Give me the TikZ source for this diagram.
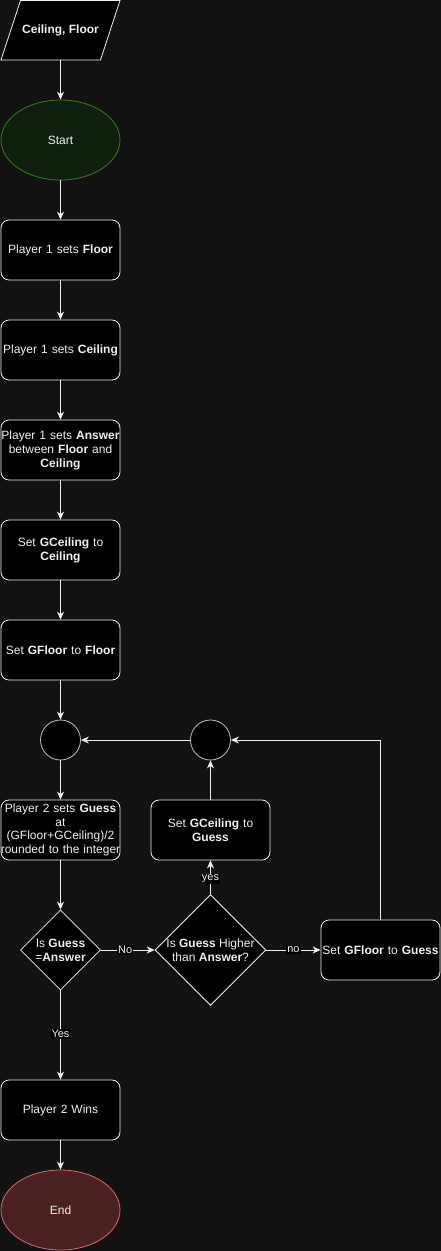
\documentclass[tikz,border=0pt]{standalone}
\usepackage{fontspec}
\setmainfont{Liberation Sans}
\usetikzlibrary{shapes.geometric,arrows.meta}
\definecolor{bgc}{HTML}{121212}
\definecolor{txt}{HTML}{F0F0F0}
\definecolor{edge}{HTML}{F0F0F0}
\definecolor{startfill}{HTML}{0F1F0E}
\definecolor{startline}{HTML}{3E7A1E}
\definecolor{endfill}{HTML}{4A2020}
\definecolor{endline}{HTML}{D46A6A}
\tikzset{
  base/.style={text=txt, font=\fontsize{12}{14}\selectfont, align=center, inner sep=0pt, line width=0.8pt},
  procbox/.style={base, draw=edge, fill=black, rounded corners=8pt, minimum width=119pt, minimum height=60pt, text width=119pt},
  term/.style={base, ellipse, minimum width=119pt, minimum height=80pt},
  decision/.style={base, diamond, draw=edge, fill=black},
  junction/.style={base, circle, draw=edge!80!black, fill=black, minimum size=40pt},
  flow/.style={draw=edge, line width=0.9pt, -{Stealth[length=8pt,width=7pt,inset=2.5pt]}},
  elabel/.style={fill=black, text=txt, font=\fontsize{11}{12}\selectfont, inner sep=1pt}
}
\begin{document}
\begin{tikzpicture}[x=1pt,y=-1pt]
\fill[bgc] (0,0) rectangle (441,1251);
\useasboundingbox (0,0) rectangle (441,1251);

\draw[edge, line width=0.8pt, fill=black] (20.5,0.5) -- (120,0.5) -- (100.5,60) -- (1,60) -- cycle;
\node[base, font=\fontsize{12}{14}\selectfont\bfseries] (io) at (60.5,30) {Ceiling, Floor};
\coordinate (iob) at (60.5,60);

\node[term, draw=startline, fill=startfill] (start) at (60.5,140) {Start};
\node[procbox] (p1) at (60.5,250) {Player 1 sets \textbf{Floor}};
\node[procbox] (p2) at (60.5,350) {Player 1 sets \textbf{Ceiling}};
\node[procbox] (p3) at (60.5,450) {Player 1 sets \textbf{Answer}\\between \textbf{Floor} and\\\textbf{Ceiling}};
\node[procbox] (p4) at (60.5,550) {Set \textbf{GCeiling} to\\\textbf{Ceiling}};
\node[procbox] (p5) at (60.5,650) {Set \textbf{GFloor} to \textbf{Floor}};
\node[junction] (j1) at (60.5,740) {};
\node[junction] (j2) at (210.5,740) {};
\node[procbox, font=\fontsize{12}{13.5}\selectfont] (p6) at (60.5,830) {Player 2 sets \textbf{Guess}\\at\\(GFloor+GCeiling)/2\\\makebox[119pt][c]{rounded to the integer}};
\node[procbox] (p7) at (210.5,830) {Set \textbf{GCeiling} to\\\textbf{Guess}};
\node[decision, minimum width=80pt, minimum height=80pt] (d1) at (60.5,950) {Is \textbf{Guess}\\=\textbf{Answer}};
\node[decision, minimum width=110pt, minimum height=110pt] (d2) at (210.5,950) {Is \textbf{Guess} Higher\\than \textbf{Answer}?};
\node[procbox] (p8) at (380.5,950) {Set \textbf{GFloor} to \textbf{Guess}};
\node[procbox] (p9) at (60.5,1110) {Player 2 Wins};
\node[term, draw=endline, fill=endfill] (end) at (60.5,1210) {End};

\draw[flow] (iob) -- (start.north);
\draw[flow] (start) -- (p1);
\draw[flow] (p1) -- (p2);
\draw[flow] (p2) -- (p3);
\draw[flow] (p3) -- (p4);
\draw[flow] (p4) -- (p5);
\draw[flow] (p5) -- (j1);
\draw[flow] (j1) -- (p6);
\draw[flow] (p6) -- (d1);
\draw[flow] (d1) -- node[elabel, pos=0.45] {No} (d2);
\draw[flow] (d2) -- node[elabel, pos=0.45] {yes} (p7);
\draw[flow] (d2) -- node[elabel, pos=0.5] {no} (p8);
\draw[flow] (p7) -- (j2);
\draw[flow] (j2) -- (j1);
\draw[flow] (p8.north) |- (j2.east);
\draw[flow] (d1) -- node[elabel, pos=0.49] {Yes} (p9);
\draw[flow] (p9) -- (end);
\end{tikzpicture}
\end{document}
